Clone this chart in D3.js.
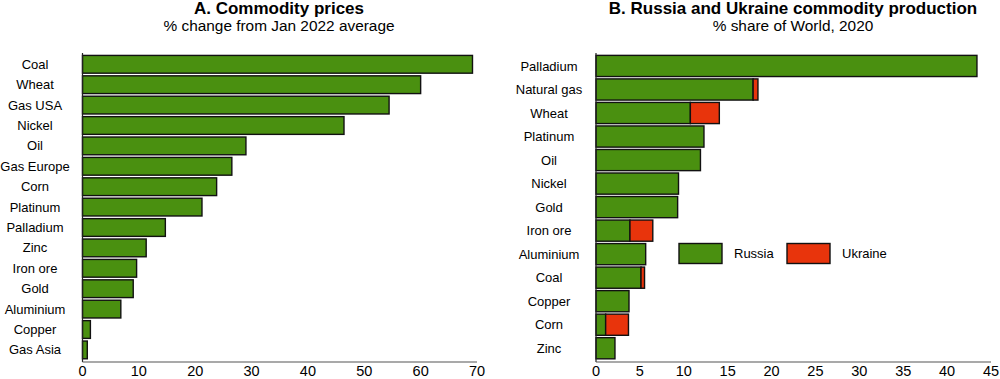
<html>
<head>
<meta charset="utf-8" />
<title>Commodities</title>
<script src="https://cdn.jsdelivr.net/npm/d3@7"></script>
<style>
body { margin: 0; background: #fff; }
text { font-family: "Liberation Sans", Arial, sans-serif; fill: #000; }
</style>
</head>
<body>
<script>
// Panel A data
var priceNames = ["Coal","Wheat","Gas USA","Nickel","Oil","Gas Europe","Corn","Platinum","Palladium","Zinc","Iron ore","Gold","Aluminium","Copper","Gas Asia"];
var priceChange = [69.2, 60.0, 54.4, 46.4, 29.0, 26.5, 23.8, 21.2, 14.7, 11.3, 9.6, 9.0, 6.8, 1.4, 0.85];
var priceTicks = [0,10,20,30,40,50,60,70];

// Panel B data
var prodNames = ["Palladium","Natural gas","Wheat","Platinum","Oil","Nickel","Gold","Iron ore","Aluminium","Coal","Copper","Corn","Zinc"];
var russia  = [43.4, 17.9, 10.75, 12.3, 11.9, 9.4, 9.3, 3.87, 5.66, 5.13, 3.76, 1.1, 2.16];
var ukraine = [0, 0.55, 3.3, 0, 0, 0, 0, 2.6, 0, 0.4, 0, 2.6, 0];
var prodTicks = [0,5,10,15,20,25,30,35,40,45];

var green = "#4a9010", red = "#e8340c";

var W = 1000, H = 379;
var svg = d3.select("body").append("svg").attr("width",W).attr("height",H);

// ---------- Panel A ----------
var xA = d3.scaleLinear().domain([0,70]).range([82.5,477]);
var yA = d3.scaleBand().domain(priceNames).range([54.2,360]).paddingInner(0.13).paddingOuter(0.06);

var gA = svg.append("g");
gA.append("text").attr("x",279).attr("y",14).attr("text-anchor","middle")
	.attr("font-size","17px").attr("font-weight","bold").text("A. Commodity prices");
gA.append("text").attr("x",279).attr("y",31).attr("text-anchor","middle")
	.attr("font-size","15.4px").text("% change from Jan 2022 average");

gA.selectAll("rect.bar").data(priceNames).enter().append("rect")
	.attr("class","bar")
	.attr("x",xA(0))
	.attr("y",d=>yA(d))
	.attr("width",(d,i)=>xA(priceChange[i])-xA(0))
	.attr("height",yA.bandwidth())
	.attr("fill",green).attr("stroke","#111").attr("stroke-width",1.4);

gA.selectAll("text.cat").data(priceNames).enter().append("text")
	.attr("class","cat")
	.attr("x",35).attr("y",d=>yA(d)+yA.bandwidth()/2)
	.attr("dy","0.35em").attr("text-anchor","middle").attr("font-size","13px")
	.text(d=>d);

gA.append("line").attr("x1",xA(0)).attr("x2",xA(0)).attr("y1",53).attr("y2",362)
	.attr("stroke","#222").attr("stroke-width",1.2);
gA.append("line").attr("x1",xA(0)).attr("x2",xA(70)).attr("y1",362).attr("y2",362)
	.attr("stroke","#555").attr("stroke-width",1.2);
gA.selectAll("text.tick").data(priceTicks).enter().append("text")
	.attr("class","tick")
	.attr("x",d=>xA(d)).attr("y",376).attr("text-anchor","middle").attr("font-size","14.5px")
	.text(d=>d);

// ---------- Panel B ----------
var xB = d3.scaleLinear().domain([0,45]).range([596,991]);
var yB = d3.scaleBand().domain(prodNames).range([54.2,360]).paddingInner(0.1).paddingOuter(0.05);

var gB = svg.append("g");
gB.append("text").attr("x",793).attr("y",14).attr("text-anchor","middle")
	.attr("font-size","17px").attr("font-weight","bold").text("B. Russia and Ukraine commodity production");
gB.append("text").attr("x",793).attr("y",31).attr("text-anchor","middle")
	.attr("font-size","15.4px").text("% share of World, 2020");

gB.selectAll("rect.ru").data(prodNames).enter().append("rect")
	.attr("class","ru")
	.attr("x",xB(0))
	.attr("y",d=>yB(d))
	.attr("width",(d,i)=>xB(russia[i])-xB(0))
	.attr("height",yB.bandwidth())
	.attr("fill",green).attr("stroke","#111").attr("stroke-width",1.4);

gB.selectAll("rect.ua").data(prodNames.filter((d,i)=>ukraine[i]>0)).enter().append("rect")
	.attr("class","ua")
	.attr("x",d=>xB(russia[prodNames.indexOf(d)]))
	.attr("y",d=>yB(d))
	.attr("width",d=>{var i=prodNames.indexOf(d); return xB(russia[i]+ukraine[i])-xB(russia[i]);})
	.attr("height",yB.bandwidth())
	.attr("fill",red).attr("stroke","#111").attr("stroke-width",1.4);

gB.selectAll("text.cat").data(prodNames).enter().append("text")
	.attr("class","cat")
	.attr("x",549).attr("y",d=>yB(d)+yB.bandwidth()/2)
	.attr("dy","0.35em").attr("text-anchor","middle").attr("font-size","13px")
	.text(d=>d);

gB.append("line").attr("x1",xB(0)).attr("x2",xB(0)).attr("y1",53).attr("y2",362)
	.attr("stroke","#222").attr("stroke-width",1.2);
gB.append("line").attr("x1",xB(0)).attr("x2",xB(45)).attr("y1",362).attr("y2",362)
	.attr("stroke","#555").attr("stroke-width",1.2);
gB.selectAll("text.tick").data(prodTicks).enter().append("text")
	.attr("class","tick")
	.attr("x",d=>xB(d)).attr("y",376).attr("text-anchor","middle").attr("font-size","14.5px")
	.text(d=>d);

// legend
var legend = [{name:"Russia",color:green,x:679},{name:"Ukraine",color:red,x:787}];
legend.forEach(function(l){
	gB.append("rect").attr("x",l.x).attr("y",243.5).attr("width",43).attr("height",20)
		.attr("fill",l.color).attr("stroke","#111").attr("stroke-width",1.4);
	gB.append("text").attr("x",l.x+55).attr("y",253.5).attr("dy","0.35em")
		.attr("font-size","13px").text(l.name);
});
</script>
</body>
</html>
